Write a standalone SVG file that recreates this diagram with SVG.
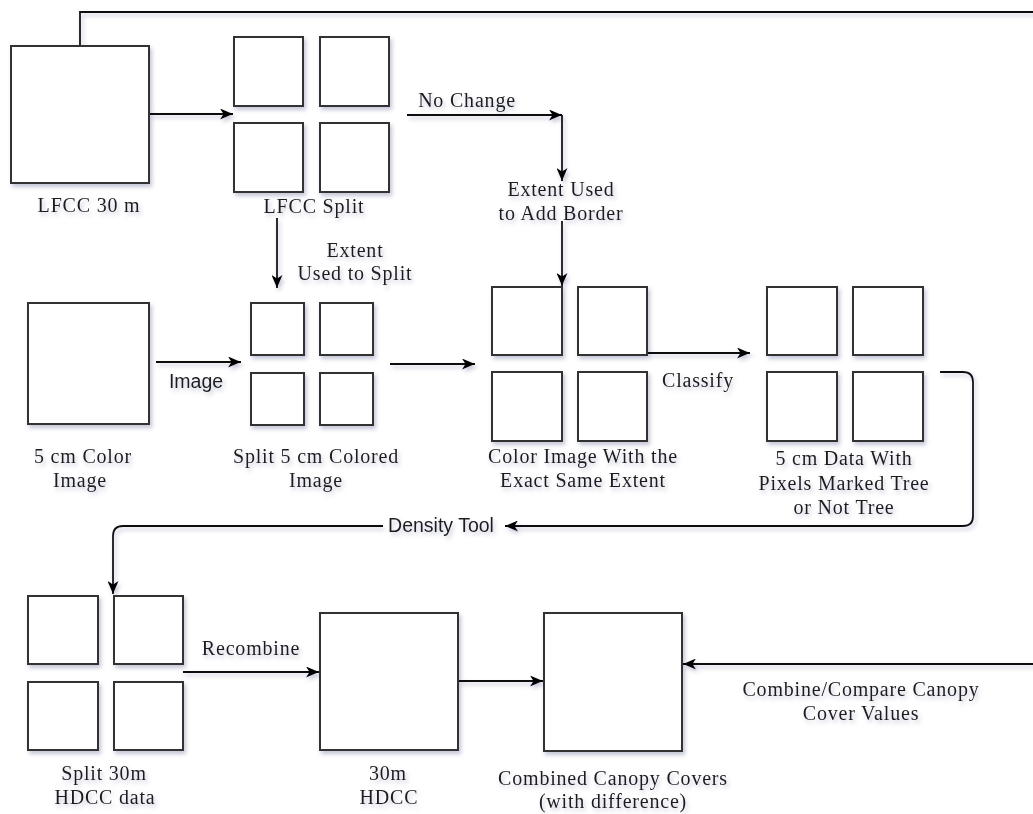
<svg xmlns="http://www.w3.org/2000/svg" width="1033" height="814" viewBox="0 0 1033 814">
  <style>
    .box { fill: #ffffff; stroke: #333333; stroke-width: 2; }
    .edge { fill: none; stroke: #111111; stroke-width: 1.8; }
    .lbl { font-family: "Liberation Serif", "Times New Roman", serif; font-size: 20px; letter-spacing: 0.8px; fill: #1a1a1a; text-anchor: middle; }
    .sans { font-family: "Liberation Sans", Arial, sans-serif; font-size: 19.5px; fill: #1a1a1a; text-anchor: middle; }
  </style>
  <defs>
    <filter id="sh" x="-20%" y="-20%" width="150%" height="150%">
      <feDropShadow dx="2" dy="3" stdDeviation="2" flood-color="#7a7fa8" flood-opacity="0.45"/>
    </filter>
    <marker id="arr" viewBox="0 0 13 11" refX="13" refY="5.5" markerWidth="13" markerHeight="11" orient="auto" markerUnits="userSpaceOnUse">
      <path d="M0,0 L13,5.5 L0,11 L3.5,5.5 Z" fill="#000000"/>
    </marker>
  </defs>
  <rect width="1033" height="814" fill="#ffffff"/>
  <g filter="url(#sh)">
    <g id="connectors">
      <path class="edge" d="M149,114 H233" marker-end="url(#arr)"/>
      <path class="edge" d="M80,46 V12 H1045 V664 H683" marker-end="url(#arr)"/>
      <path class="edge" d="M407,115 H562" marker-end="url(#arr)"/>
      <path class="edge" d="M562,115 V181" marker-end="url(#arr)"/>
      <path class="edge" d="M562,221 V286" marker-end="url(#arr)"/>
      <path class="edge" d="M277,218 V288" marker-end="url(#arr)"/>
      <path class="edge" d="M156,362 H241" marker-end="url(#arr)"/>
      <path class="edge" d="M390,364 H475" marker-end="url(#arr)"/>
      <path class="edge" d="M647,353 H750" marker-end="url(#arr)"/>
      <path class="edge" d="M940,372 H963 Q973,372 973,382 V516 Q973,526 963,526 H505" marker-end="url(#arr)"/>
      <path class="edge" d="M383,526 H123 Q113,526 113,536 V594" marker-end="url(#arr)"/>
      <path class="edge" d="M183,672 H319" marker-end="url(#arr)"/>
      <path class="edge" d="M458,681 H543" marker-end="url(#arr)"/>
      <text class="lbl" x="467" y="107">No Change</text>
      <text class="lbl" x="561" y="196">Extent Used</text>
      <text class="lbl" x="561" y="220">to Add Border</text>
      <text class="lbl" x="355" y="257">Extent</text>
      <text class="lbl" x="355" y="280">Used to Split</text>
      <text class="sans" x="196" y="388">Image</text>
      <text class="lbl" x="698" y="387">Classify</text>
      <text class="sans" x="441" y="532">Density Tool</text>
      <text class="lbl" x="251" y="655">Recombine</text>
      <text class="lbl" x="861" y="696">Combine/Compare Canopy</text>
      <text class="lbl" x="861" y="720">Cover Values</text>
    </g>
    <g id="lfcc30">
      <rect class="box" x="11" y="46" width="138" height="137"/>
      <text class="lbl" x="89" y="212">LFCC 30 m</text>
    </g>
    <g id="lfccsplit">
      <rect class="box" x="234" y="37" width="69" height="69"/>
      <rect class="box" x="320" y="37" width="69" height="69"/>
      <rect class="box" x="234" y="123" width="69" height="69"/>
      <rect class="box" x="320" y="123" width="69" height="69"/>
      <text class="lbl" x="314" y="213">LFCC Split</text>
    </g>
    <g id="color5cm">
      <rect class="box" x="28" y="303" width="121" height="121"/>
      <text class="lbl" x="83" y="463">5 cm Color</text>
      <text class="lbl" x="80" y="487">Image</text>
    </g>
    <g id="split5cm">
      <rect class="box" x="251" y="303" width="53" height="52"/>
      <rect class="box" x="320" y="303" width="53" height="52"/>
      <rect class="box" x="251" y="373" width="53" height="52"/>
      <rect class="box" x="320" y="373" width="53" height="52"/>
      <text class="lbl" x="316" y="463">Split 5 cm Colored</text>
      <text class="lbl" x="316" y="487">Image</text>
    </g>
    <g id="extentimage">
      <rect class="box" x="492" y="287" width="70" height="68"/>
      <rect class="box" x="578" y="287" width="69" height="68"/>
      <rect class="box" x="492" y="372" width="70" height="69"/>
      <rect class="box" x="578" y="372" width="69" height="69"/>
      <text class="lbl" x="583" y="463">Color Image With the</text>
      <text class="lbl" x="583" y="487">Exact Same Extent</text>
    </g>
    <g id="treedata">
      <rect class="box" x="767" y="287" width="70" height="68"/>
      <rect class="box" x="853" y="287" width="70" height="68"/>
      <rect class="box" x="767" y="372" width="70" height="69"/>
      <rect class="box" x="853" y="372" width="70" height="69"/>
      <text class="lbl" x="844" y="465">5 cm Data With</text>
      <text class="lbl" x="844" y="490">Pixels Marked Tree</text>
      <text class="lbl" x="844" y="514">or Not Tree</text>
    </g>
    <g id="split30m">
      <rect class="box" x="28" y="596" width="70" height="68"/>
      <rect class="box" x="114" y="596" width="69" height="68"/>
      <rect class="box" x="28" y="682" width="70" height="68"/>
      <rect class="box" x="114" y="682" width="69" height="68"/>
      <text class="lbl" x="104" y="780">Split 30m</text>
      <text class="lbl" x="105" y="804">HDCC data</text>
    </g>
    <g id="hdcc30m">
      <rect class="box" x="320" y="613" width="138" height="137"/>
      <text class="lbl" x="388" y="780">30m</text>
      <text class="lbl" x="389" y="804">HDCC</text>
    </g>
    <g id="combined">
      <rect class="box" x="544" y="613" width="138" height="138"/>
      <text class="lbl" x="613" y="785">Combined Canopy Covers</text>
      <text class="lbl" x="613" y="808">(with difference)</text>
    </g>
  </g>
</svg>
